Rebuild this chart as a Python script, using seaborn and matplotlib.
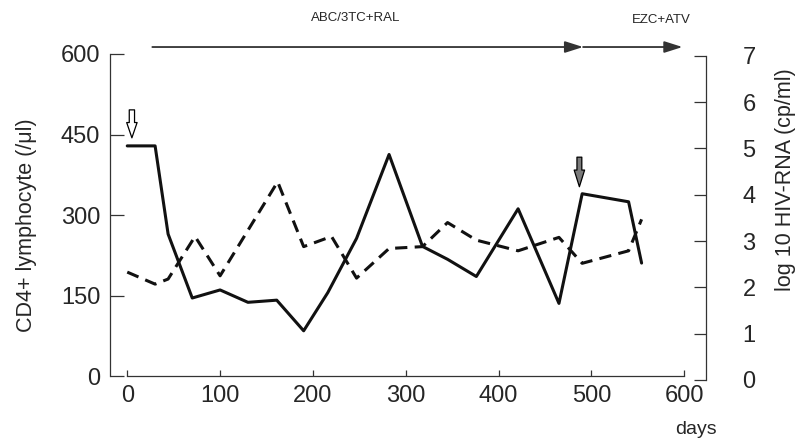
import matplotlib
matplotlib.use("Agg")
import matplotlib.pyplot as plt
import seaborn as sns
import pandas as pd

# CD4+ lymphocyte counts (/μl) over time
cd4_days = [0, 30, 44, 70, 100, 130, 161, 190, 216, 247, 282, 318, 345, 376, 421, 465, 490, 540, 554]
cd4_counts = [429, 429, 265, 146, 161, 138, 142, 85, 156, 257, 413, 242, 218, 186, 312, 136, 340, 325, 211]

# log10 HIV-RNA (cp/ml) over time
rna_days = [0, 30, 44, 73, 100, 162, 190, 220, 247, 282, 318, 345, 376, 421, 465, 490, 540, 554]
rna_log = [2.33, 2.07, 2.18, 3.10, 2.25, 4.28, 2.88, 3.10, 2.20, 2.84, 2.88, 3.40, 3.02, 2.79, 3.08, 2.52, 2.79, 3.47]

x_ticks = [0, 100, 200, 300, 400, 500, 600]
left_ticks = [0, 150, 300, 450, 600]
right_ticks = [0, 1, 2, 3, 4, 5, 6, 7]

# treatment regimens: (label, start day, end day)
regimen_labels = ["ABC/3TC+RAL", "EZC+ATV"]
regimen_start = [27, 491]
regimen_end = [491, 598]

cd4_df = pd.DataFrame({"day": cd4_days, "cd4": cd4_counts})
rna_df = pd.DataFrame({"day": rna_days, "rna": rna_log})

sns.set_style("ticks")
plt.rcParams["font.family"] = ["Liberation Sans", "DejaVu Sans"]
plt.rcParams["axes.edgecolor"] = "#333333"
plt.rcParams["axes.linewidth"] = 0.9

fig = plt.figure(figsize=(7.97, 4.42), dpi=100)
ax = fig.add_axes([0.1380, 0.1403, 0.7475, 0.7466])
ax2 = ax.twinx()

sns.lineplot(data=cd4_df, x="day", y="cd4", ax=ax, color="#111111",
             lw=2.2, estimator=None, sort=False)
sns.lineplot(data=rna_df, x="day", y="rna", ax=ax2, color="#111111",
             lw=2.2, estimator=None, sort=False, linestyle=(0, (4, 2.4)))

ax.set_xlim(-18.6, 623.1)
ax.set_ylim(-6.5, 607.4)
ax2.set_ylim(0, 7.127)

# spines
for s in ["top", "right"]:
    ax.spines[s].set_visible(False)
for s in ["top", "left", "bottom"]:
    ax2.spines[s].set_visible(False)
ax.spines["left"].set_bounds(0, 600)
ax.spines["bottom"].set_position(("data", 0))
ax.spines["bottom"].set_bounds(0, 600)
ax2.spines["right"].set_bounds(0, 7)

ax.set_xticks(x_ticks)
ax.set_yticks(left_ticks)
ax2.set_yticks(right_ticks)
ax.set_xticklabels([str(v) for v in x_ticks])
ax.set_yticklabels([str(v) for v in left_ticks])
ax2.set_yticklabels([str(v) for v in right_ticks])

ax.tick_params(axis="x", direction="in", length=4.3, width=0.9, color="#333333",
               labelsize=17, pad=6)
ax.tick_params(axis="y", direction="in", length=10, width=0.9, color="#333333",
               labelsize=17, pad=7)
ax2.tick_params(axis="y", direction="in", length=8.6, width=0.9, color="#333333",
                labelsize=17, pad=26.5)

ax.set_xlabel("")
ax.set_ylabel("")
ax2.set_ylabel("")

fig.text(27 / 797, 1 - 225 / 442, "CD4+ lymphocyte (/μl)", rotation=90,
         ha="center", va="center", fontsize=15.5)
fig.text(785 / 797, 1 - 180 / 442, "log 10 HIV-RNA (cp/ml)", rotation=90,
         ha="center", va="center", fontsize=15.5)
fig.text(696 / 797, 1 - 430 / 442, "days", ha="center", va="center", fontsize=14)

# regimen arrows and labels above the plot
xt = ax.get_xaxis_transform()
for lab, s, e in zip(regimen_labels, regimen_start, regimen_end):
    ax.annotate("", xy=(e, 1.009), xytext=(s, 1.009), xycoords=xt, textcoords=xt,
                annotation_clip=False,
                arrowprops=dict(arrowstyle="-|>,head_length=1.1,head_width=0.35",
                                color="#333333", lw=1.3, shrinkA=0, shrinkB=0,
                                mutation_scale=10))
ax.text(246.5, 1.097, regimen_labels[0], transform=xt, ha="center", va="center",
        fontsize=9.5)
ax.text(575, 1.091, regimen_labels[1], transform=xt, ha="center", va="center",
        fontsize=9.5)

# markers for start of therapy and regimen switch
ax.annotate("", xy=(5, 444), xytext=(5, 496),
            arrowprops=dict(arrowstyle="simple,head_length=1.1,head_width=0.75,tail_width=0.38",
                            fc="white", ec="black", lw=0.9, shrinkA=0, shrinkB=0,
                            mutation_scale=10))
ax.annotate("", xy=(487, 353), xytext=(487, 408),
            arrowprops=dict(arrowstyle="simple,head_length=1.2,head_width=0.75,tail_width=0.35",
                            fc="#7a7a7a", ec="black", lw=0.9, shrinkA=0, shrinkB=0,
                            mutation_scale=10))

fig.savefig("out.png", dpi=100)
